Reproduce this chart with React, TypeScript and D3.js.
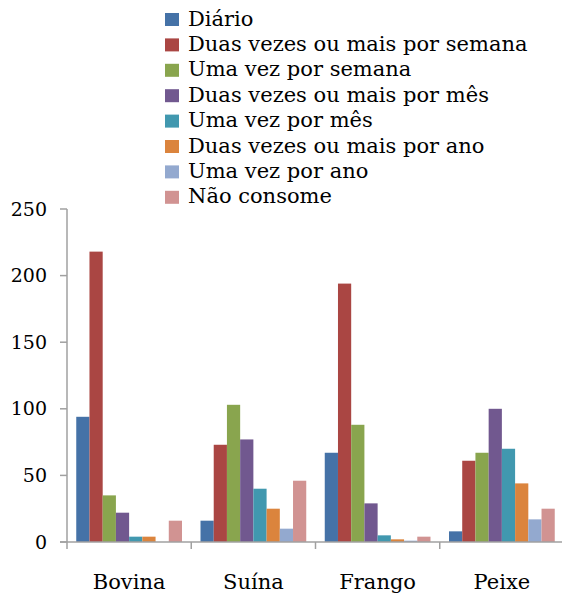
import React from "react";
import * as d3 from "d3";

const categories = ["Bovina", "Suína", "Frango", "Peixe"];
const seriesNames = [
  "Diário",
  "Duas vezes ou mais por semana",
  "Uma vez por semana",
  "Duas vezes ou mais por mês",
  "Uma vez por mês",
  "Duas vezes ou mais por ano",
  "Uma vez por ano",
  "Não consome",
];
const colors = ["#4572a7", "#aa4643", "#89a54e", "#71588f", "#4198af", "#db843d", "#93a9cf", "#d19392"];

// values per category, in series order
const bovina = [94, 218, 35, 22, 4, 4, 0, 16];
const suina = [16, 73, 103, 77, 40, 25, 10, 46];
const frango = [67, 194, 88, 29, 5, 2, 1, 4];
const peixe = [8, 61, 67, 100, 70, 44, 17, 25];
const values = [bovina, suina, frango, peixe];
const yTicks = [0, 50, 100, 150, 200, 250];

const W = 562;
const H = 594;
const left = 67;
const right = 564;
const top = 209;
const bottom = 542;
const font = "'DejaVu Serif', serif";

export default function App() {
  const x0 = d3.scaleBand().domain(categories).range([left, right]).paddingInner(0).paddingOuter(0);
  const x1 = d3
    .scaleBand()
    .domain(seriesNames)
    .range([0, x0.bandwidth()])
    .paddingOuter(0.7)
    .paddingInner(0);
  const y = d3.scaleLinear().domain([0, 250]).range([bottom, top]);

  return (
    <svg width={W} height={H} style={{ position: "absolute", left: 0, top: 0 }}>
      {/* legend */}
      {seriesNames.map((s, i) => (
        <g key={s} transform={`translate(165, ${19.5 + i * 25.4})`}>
          <rect x={0} y={-6.5} width={14} height={13} fill={colors[i]} />
          <text x={23} y={6} fontFamily={font} fontSize={21} fill="#000">
            {s}
          </text>
        </g>
      ))}

      {/* bars */}
      {categories.map((c, ci) => (
        <g key={c} transform={`translate(${x0(c)}, 0)`}>
          {values[ci].map((v, si) => (
            <rect
              key={si}
              x={x1(seriesNames[si])}
              y={y(v)}
              width={x1.bandwidth()}
              height={bottom - y(v)}
              fill={colors[si]}
            />
          ))}
        </g>
      ))}

      {/* y axis */}
      <line x1={left} x2={left} y1={top} y2={bottom} stroke="#a0a0a0" strokeWidth={1.5} />
      {yTicks.map((t) => (
        <g key={t}>
          <line x1={left - 7} x2={left} y1={y(t)} y2={y(t)} stroke="#a0a0a0" strokeWidth={1.5} />
          <text x={47} y={y(t)} dy="0.35em" textAnchor="end" fontFamily={font} fontSize={19}>
            {t}
          </text>
        </g>
      ))}

      {/* x axis */}
      <line x1={left - 7} x2={right} y1={bottom} y2={bottom} stroke="#a0a0a0" strokeWidth={1.5} />
      {categories.map((c) => (
        <line
          key={c}
          x1={x0(c)}
          x2={x0(c)}
          y1={bottom}
          y2={bottom + 7}
          stroke="#a0a0a0"
          strokeWidth={1.5}
        />
      ))}
      {categories.map((c) => (
        <text
          key={c}
          x={(x0(c) as number) + x0.bandwidth() / 2}
          y={589}
          textAnchor="middle"
          fontFamily={font}
          fontSize={21}
        >
          {c}
        </text>
      ))}
    </svg>
  );
}
